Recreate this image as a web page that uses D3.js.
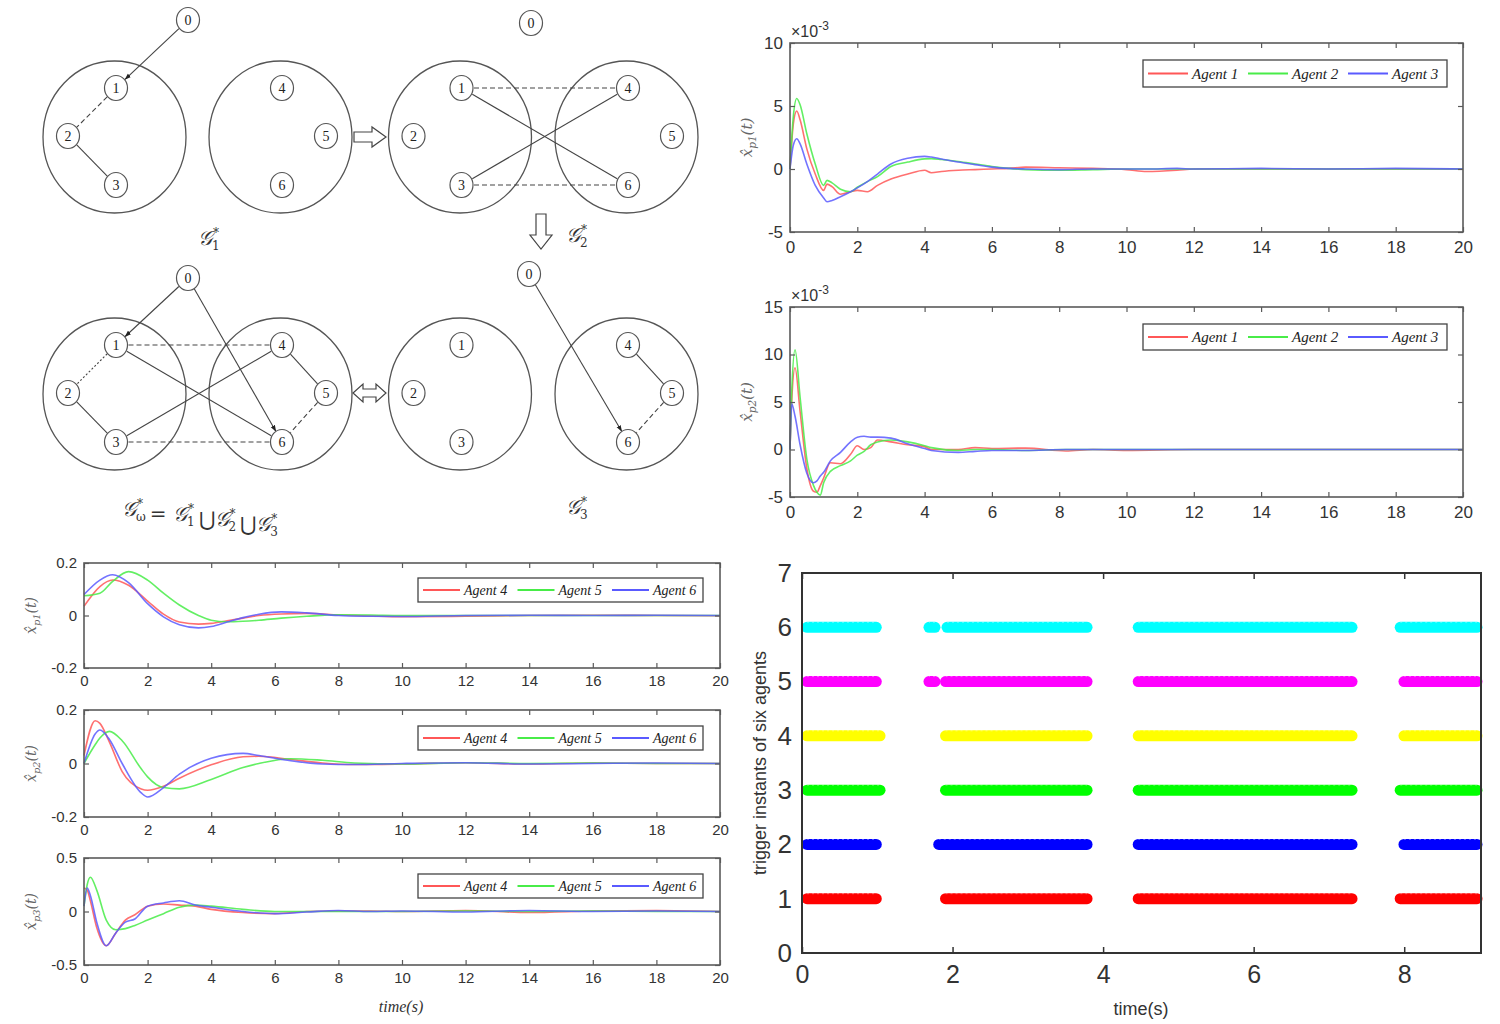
<!DOCTYPE html>
<html><head><meta charset="utf-8">
<script src="https://cdn.jsdelivr.net/npm/d3@7"></script>
<style>body{margin:0;background:#fff}svg{display:block}</style>
</head><body>
<svg id="fig" width="1500" height="1024"></svg>
<script>
// ---- data ----
// top-right panel 1, x_p1 of agents 1-3 (units of 1e-3)
const tP1 = [0, 0.1, 0.2, 0.3, 0.5, 0.75, 1.0, 1.1, 1.25, 1.5, 1.8, 2.0, 2.3, 2.6, 3.0, 3.5, 4.0, 4.2, 4.5, 5.0, 5.5, 6.0, 6.5, 7.0, 8.0, 9.0, 10.0, 10.6, 11.5, 12, 14, 16, 18, 20];
const p1Agent1 = [0, 3.6, 4.6, 3.9, 1.6, -0.4, -1.7, -1.2, -1.4, -2.0, -1.8, -1.7, -1.8, -1.3, -0.8, -0.4, -0.1, -0.3, -0.2, -0.1, -0.05, 0, 0.05, 0.15, 0.1, 0.05, -0.05, -0.2, -0.1, 0, 0, 0, 0, 0];
const p1Agent2 = [0, 4.2, 5.6, 5.1, 2.8, 0.4, -1.3, -0.9, -1.1, -1.6, -1.8, -1.45, -1.0, -0.6, 0.2, 0.55, 0.8, 0.82, 0.75, 0.6, 0.4, 0.2, 0.05, -0.05, -0.1, -0.05, 0, 0, 0, 0, 0, 0, 0, 0];
const p1Agent3 = [0, 1.9, 2.4, 2.0, 0.4, -1.3, -2.3, -2.6, -2.5, -2.2, -1.8, -1.5, -1.0, -0.4, 0.4, 0.85, 1.0, 0.95, 0.8, 0.55, 0.35, 0.15, 0.05, 0, -0.05, 0, 0, 0, 0.05, 0, 0.05, 0, 0.05, 0];

// top-right panel 2, x_p2 of agents 1-3 (units of 1e-3)
const tP2 = [0, 0.05, 0.15, 0.3, 0.5, 0.7, 0.8, 0.9, 1.0, 1.2, 1.5, 1.8, 2.0, 2.2, 2.4, 2.6, 3.0, 3.5, 4.0, 4.2, 5.0, 5.5, 6.0, 7.0, 8.2, 9.0, 10.0, 12.0, 14.0, 16.0, 18.0, 20.0];
const p2Agent1 = [0, 5.0, 8.6, 4.0, -2.0, -4.4, -4.5, -3.8, -3.0, -1.4, -1.5, -0.5, 0.4, 0.0, 0.2, 1.0, 0.8, 0.5, 0.3, 0.0, 0.0, 0.2, 0.1, 0.15, -0.15, 0.0, -0.1, 0, 0, 0, 0, 0];
const p2Agent2 = [0, 6.0, 10.5, 5.5, -1.0, -3.8, -4.5, -4.8, -3.5, -2.3, -1.7, -1.2, -0.6, -0.2, 0.5, 0.8, 1.0, 0.8, 0.4, 0.2, -0.1, 0, 0, -0.1, 0, 0, 0, 0, 0, 0, 0, 0];
const p2Agent3 = [0, 4.8, 3.5, 0.5, -2.5, -3.5, -3.3, -2.8, -2.4, -1.2, -0.3, 0.8, 1.3, 1.4, 1.3, 1.3, 1.2, 0.6, 0.1, -0.1, -0.3, -0.2, -0.1, -0.1, 0, 0, 0, 0, 0, 0, 0, 0];

// bottom-left panel 1, x_p1 of agents 4-6
const tQ1 = [0, 0.5, 0.9, 1.4, 2.0, 2.5, 3.0, 3.6, 4.0, 4.5, 5.0, 5.5, 6.2, 7.0, 8.0, 9.0, 10.0, 12.0, 14.0, 16.0, 18.0, 20.0];
const q1Agent4 = [0.035, 0.11, 0.135, 0.115, 0.055, 0.005, -0.025, -0.033, -0.03, -0.02, -0.01, 0, 0.006, 0.008, 0.002, -0.002, -0.005, -0.003, 0, 0.001, 0, -0.001];
const q1Agent5 = [0.075, 0.085, 0.13, 0.167, 0.135, 0.085, 0.04, 0.0, -0.018, -0.024, -0.022, -0.018, -0.01, -0.003, 0.003, 0.002, 0, 0, 0, 0, 0, 0];
const q1Agent6 = [0.08, 0.135, 0.155, 0.125, 0.045, -0.005, -0.035, -0.047, -0.042, -0.025, -0.008, 0.005, 0.014, 0.01, 0.0, -0.003, -0.004, 0, 0.001, 0, 0.001, 0];

// bottom-left panel 2, x_p2 of agents 4-6
const tQ2 = [0, 0.35, 0.5, 0.8, 1.2, 1.8, 2.0, 2.5, 3.0, 4.0, 5.0, 5.5, 6.5, 7.5, 8.5, 10, 12, 14, 16, 18, 20];
const q2Agent4 = [0.03, 0.16, 0.15, 0.08, -0.03, -0.095, -0.1, -0.085, -0.055, -0.005, 0.025, 0.027, 0.015, 0.002, -0.004, -0.002, 0.003, -0.002, 0.002, 0, 0];
const q2Agent5 = [0.0, 0.07, 0.095, 0.12, 0.085, -0.02, -0.05, -0.09, -0.095, -0.06, -0.015, 0.0, 0.018, 0.012, 0.002, -0.002, 0.003, 0, 0.002, 0, 0];
const q2Agent6 = [0.0, 0.11, 0.125, 0.09, 0.0, -0.11, -0.125, -0.09, -0.04, 0.02, 0.038, 0.03, 0.01, -0.002, -0.004, 0, 0.003, -0.002, 0, 0.002, 0];

// bottom-left panel 3, x_p3 of agents 4-6
const tQ3 = [0, 0.1, 0.2, 0.4, 0.7, 1.0, 1.3, 1.6, 2.0, 2.5, 3.0, 3.5, 4.0, 5.0, 6.0, 7.0, 8.0, 9.0, 10, 12, 14, 16, 18, 20];
const q3Agent4 = [0.22, 0.2, 0.1, -0.15, -0.32, -0.2, -0.08, -0.03, 0.05, 0.07, 0.06, 0.05, 0.02, -0.01, -0.02, 0, 0.005, 0.005, 0, 0.01, -0.01, 0.005, 0.01, 0];
const q3Agent5 = [0.05, 0.25, 0.32, 0.2, -0.08, -0.17, -0.16, -0.13, -0.08, -0.02, 0.04, 0.06, 0.05, 0.02, 0, 0, 0, 0, 0, 0.005, 0, 0.005, 0, 0];
const q3Agent6 = [0.05, 0.22, 0.15, -0.1, -0.32, -0.2, -0.1, -0.07, 0.05, 0.08, 0.1, 0.06, 0.04, 0, -0.02, -0.005, 0.01, 0, 0.005, -0.005, 0.01, 0, 0.005, 0];

// trigger bursts [start, end] (s) per agent 1..6
const trigAgent1 = [[0, 1.0], [1.84, 3.8], [4.4, 7.32], [7.88, 8.98]];
const trigAgent2 = [[0, 1.0], [1.75, 3.8], [4.4, 7.32], [7.93, 8.98]];
const trigAgent3 = [[0, 1.05], [1.84, 3.8], [4.4, 7.32], [7.88, 8.98]];
const trigAgent4 = [[0, 1.05], [1.84, 3.8], [4.4, 7.32], [7.93, 8.98]];
const trigAgent5 = [[0, 1.0], [1.7, 1.7], [1.84, 3.8], [4.4, 7.32], [7.93, 8.98]];
const trigAgent6 = [[0, 1.0], [1.7, 1.7], [1.86, 3.8], [4.4, 7.32], [7.88, 8.98]];
const trigColors = ["#ff0000", "#0000ff", "#00ff00", "#ffff00", "#ff00ff", "#00ffff"];

const xTicks20 = [0, 2, 4, 6, 8, 10, 12, 14, 16, 18, 20];
const legendTop = ["Agent 1", "Agent 2", "Agent 3"];
const legendBottom = ["Agent 4", "Agent 5", "Agent 6"];
const agentColors = ["#ff5757", "#48ec48", "#5a5aff"];

const svg = d3.select("#fig");
const FRAME = "#5a5a5a";
const SANS = "'Liberation Sans', Arial, sans-serif";
const SERIF = "'Liberation Serif', 'Times New Roman', serif";
const hyph = f => d => f(d).replace("\u2212", "-");

// ---- line chart panels ----
function lineChart(o) {
  const x = d3.scaleLinear().domain([0, 20]).range([o.left, o.right]);
  const y = d3.scaleLinear().domain(o.yDom).range([o.bottom, o.top]);
  const g = svg.append("g");

  const line = d3.line().x(d => x(d[0])).y(d => y(d[1])).curve(d3.curveMonotoneX);
  o.series.forEach((s, i) => {
    g.append("path")
      .datum(d3.zip(o.times, s))
      .attr("d", line)
      .attr("fill", "none")
      .attr("stroke", agentColors[i])
      .attr("stroke-width", 1.6)
      .attr("stroke-opacity", 0.85);
  });

  const styleAxis = (sel, withText) => {
    sel.select(".domain").remove();
    sel.selectAll("line").attr("stroke", FRAME).attr("stroke-width", 1.2);
    sel.selectAll("text").attr("fill", "#333").style("font-family", SANS).style("font-size", o.fs + "px");
    if (!withText) sel.selectAll("text").remove();
  };
  g.append("g").attr("transform", `translate(0,${o.bottom})`)
    .call(d3.axisBottom(x).tickValues(xTicks20).tickSize(-5).tickPadding(o.xPad).tickFormat(d3.format("d")))
    .call(s => styleAxis(s, true));
  g.append("g").attr("transform", `translate(0,${o.top})`)
    .call(d3.axisTop(x).tickValues(xTicks20).tickSize(-5))
    .call(s => styleAxis(s, false));
  g.append("g").attr("transform", `translate(${o.left},0)`)
    .call(d3.axisLeft(y).tickValues(o.yTicks).tickSize(-5).tickPadding(7).tickFormat(hyph(o.yFmt)))
    .call(s => styleAxis(s, true));
  g.append("g").attr("transform", `translate(${o.right},0)`)
    .call(d3.axisRight(y).tickValues(o.yTicks).tickSize(-5))
    .call(s => styleAxis(s, false));

  g.append("rect")
    .attr("x", o.left).attr("y", o.top)
    .attr("width", o.right - o.left).attr("height", o.bottom - o.top)
    .attr("fill", "none").attr("stroke", FRAME).attr("stroke-width", 1.6);

  // legend
  const lg = g.append("g");
  lg.append("rect")
    .attr("x", o.lg.x).attr("y", o.lg.y).attr("width", o.lg.w).attr("height", o.lg.h)
    .attr("fill", "#fff").attr("stroke", "#444").attr("stroke-width", 1.3);
  o.lg.names.forEach((n, i) => {
    const x0 = o.lg.x + 5 + i * o.lg.step;
    const cy = o.lg.y + o.lg.h / 2;
    lg.append("line").attr("x1", x0).attr("x2", x0 + o.lg.len).attr("y1", cy).attr("y2", cy)
      .attr("stroke", agentColors[i]).attr("stroke-width", 1.8);
    lg.append("text").attr("x", x0 + o.lg.len + 4).attr("y", cy + 5)
      .style("font-family", SERIF).style("font-style", "italic").style("font-size", o.lg.fs + "px")
      .attr("fill", "#222").text(n);
  });

  // y label  x̂_{pk}(t)
  const yl = g.append("text")
    .attr("transform", `translate(${o.ylx},${(o.top + o.bottom) / 2}) rotate(-90)`)
    .attr("text-anchor", "middle")
    .style("font-family", "'DejaVu Serif', serif").style("font-style", "italic")
    .style("font-size", o.ylfs + "px").attr("fill", "#666");
  yl.append("tspan").text("x\u0302");
  yl.append("tspan").attr("dy", 4).style("font-size", (o.ylfs * 0.7) + "px").text(o.sub);
  yl.append("tspan").attr("dy", -4).text("(t)");

  if (o.exp) {
    const ex = g.append("text").attr("x", o.left + 1).attr("y", o.top - 6)
      .style("font-family", SANS).style("font-size", "16px").attr("fill", "#333");
    ex.append("tspan").text("\u00d710");
    ex.append("tspan").attr("dy", -7).style("font-size", "12px").text("-3");
  }
}

const fmtTenth = d => d === 0 ? "0" : d3.format(".1f")(d);

lineChart({left: 790, right: 1463, top: 43, bottom: 232, yDom: [-5, 10], yTicks: [-5, 0, 5, 10],
  yFmt: d3.format("d"), times: tP1, series: [p1Agent1, p1Agent2, p1Agent3], fs: 17, xPad: 9,
  lg: {x: 1143, y: 60, w: 304, h: 27, step: 100, len: 40, fs: 15, names: legendTop},
  ylx: 752, ylfs: 15, sub: "p1", exp: true});

lineChart({left: 790, right: 1463, top: 307, bottom: 497, yDom: [-5, 15], yTicks: [-5, 0, 5, 10, 15],
  yFmt: d3.format("d"), times: tP2, series: [p2Agent1, p2Agent2, p2Agent3], fs: 17, xPad: 9,
  lg: {x: 1143, y: 324, w: 304, h: 26, step: 100, len: 40, fs: 15, names: legendTop},
  ylx: 752, ylfs: 15, sub: "p2", exp: true});

lineChart({left: 84, right: 720, top: 563, bottom: 668, yDom: [-0.2, 0.2], yTicks: [-0.2, 0, 0.2],
  yFmt: fmtTenth, times: tQ1, series: [q1Agent4, q1Agent5, q1Agent6], fs: 15, xPad: 7,
  lg: {x: 418, y: 578, w: 285, h: 24, step: 94.5, len: 37, fs: 14, names: legendBottom},
  ylx: 36, ylfs: 14, sub: "p1"});

lineChart({left: 84, right: 720, top: 710, bottom: 817, yDom: [-0.2, 0.2], yTicks: [-0.2, 0, 0.2],
  yFmt: fmtTenth, times: tQ2, series: [q2Agent4, q2Agent5, q2Agent6], fs: 15, xPad: 7,
  lg: {x: 418, y: 726, w: 285, h: 24, step: 94.5, len: 37, fs: 14, names: legendBottom},
  ylx: 36, ylfs: 14, sub: "p2"});

lineChart({left: 84, right: 720, top: 858, bottom: 965, yDom: [-0.5, 0.5], yTicks: [-0.5, 0, 0.5],
  yFmt: fmtTenth, times: tQ3, series: [q3Agent4, q3Agent5, q3Agent6], fs: 15, xPad: 7,
  lg: {x: 418, y: 874, w: 285, h: 24, step: 94.5, len: 37, fs: 14, names: legendBottom},
  ylx: 36, ylfs: 14, sub: "p3"});

svg.append("text").attr("x", 401).attr("y", 1012).attr("text-anchor", "middle")
  .style("font-family", SERIF).style("font-style", "italic").style("font-size", "16px")
  .attr("fill", "#333").text("time(s)");

// ---- trigger instants panel ----
(function () {
  const x = d3.scaleLinear().domain([0, 9.02]).range([802, 1481]);
  const y = d3.scaleLinear().domain([0, 7]).range([953, 573]);
  const g = svg.append("g");
  const rows = [trigAgent1, trigAgent2, trigAgent3, trigAgent4, trigAgent5, trigAgent6];
  rows.forEach((bursts, i) => {
    g.selectAll(null).data(bursts).join("line")
      .attr("x1", d => x(d[0]) + 5).attr("x2", d => x(d[1]) - 1)
      .attr("y1", y(i + 1)).attr("y2", y(i + 1))
      .attr("stroke", trigColors[i]).attr("stroke-width", 11)
      .attr("stroke-linecap", "round");
    // star-marker texture
    g.selectAll(null).data(bursts).join("line")
      .attr("x1", d => x(d[0]) + 5).attr("x2", d => x(d[1]) - 1)
      .attr("y1", y(i + 1) - 5).attr("y2", y(i + 1) - 5)
      .attr("stroke", "#fff").attr("stroke-opacity", 0.35).attr("stroke-width", 1)
      .attr("stroke-dasharray", "2,3");
  });

  const axStyle = (sel, fs) => {
    sel.select(".domain").remove();
    sel.selectAll("line").attr("stroke", "#333").attr("stroke-width", 1.5);
    sel.selectAll("text").attr("fill", "#333").style("font-family", SANS).style("font-size", fs + "px");
  };
  g.append("g").attr("transform", "translate(0,953)")
    .call(d3.axisBottom(x).tickValues([0, 2, 4, 6, 8]).tickSize(-6).tickPadding(12).tickFormat(d3.format("d")))
    .call(s => axStyle(s, 25));
  g.append("g").attr("transform", "translate(0,573)")
    .call(d3.axisTop(x).tickValues([0, 2, 4, 6, 8]).tickSize(-6).tickFormat(""))
    .call(s => axStyle(s, 25));
  g.append("g").attr("transform", "translate(802,0)")
    .call(d3.axisLeft(y).tickValues(d3.range(0, 8)).tickSize(0).tickPadding(10).tickFormat(d3.format("d")))
    .call(s => axStyle(s, 26));
  g.append("rect").attr("x", 802).attr("y", 573).attr("width", 679).attr("height", 380)
    .attr("fill", "none").attr("stroke", "#333").attr("stroke-width", 2);

  g.append("text").attr("transform", "translate(766,763) rotate(-90)").attr("text-anchor", "middle")
    .style("font-family", SANS).style("font-size", "18px").attr("fill", "#333")
    .text("trigger instants of six agents");
  g.append("text").attr("x", 1141).attr("y", 1015).attr("text-anchor", "middle")
    .style("font-family", SANS).style("font-size", "18px").attr("fill", "#333").text("time(s)");
})();

// ---- switching topology diagrams ----
const ringOffsets = [[1.5, -49], [-46.5, -1], [1.5, 48], [1.5, -49], [45.5, -1], [1.5, 48]];
const panelA = {lx: 114.5, rx: 280.5, cy: 137, n0: [188, 20],
  edges: [[0, 1, "arrow"], [1, 2, "dash"], [2, 3, "solid"]]};
const panelB = {lx: 460, rx: 626.5, cy: 137, n0: [531, 23],
  edges: [[1, 4, "dash"], [3, 6, "dash"], [1, 6, "solid"], [3, 4, "solid"]]};
const panelC = {lx: 114.5, rx: 280.5, cy: 394, n0: [188, 278],
  edges: [[0, 1, "arrow"], [0, 6, "arrow"], [1, 2, "dot"], [2, 3, "solid"], [1, 4, "dash"], [3, 6, "dash"],
          [1, 6, "solid"], [3, 4, "solid"], [4, 5, "solid"], [5, 6, "dash"]]};
const panelD = {lx: 460, rx: 626.5, cy: 394, n0: [529, 274],
  edges: [[0, 6, "arrow"], [4, 5, "solid"], [5, 6, "dash"]]};

svg.append("defs").append("marker")
  .attr("id", "ah").attr("viewBox", "0 0 10 10").attr("refX", 9).attr("refY", 5)
  .attr("markerWidth", 6).attr("markerHeight", 6).attr("orient", "auto")
  .append("path").attr("d", "M0,1.5L10,5L0,8.5Z").attr("fill", "#222");

function drawPanel(p) {
  const g = svg.append("g");
  const pos = [p.n0];
  ringOffsets.forEach((o, i) => {
    const cx = i < 3 ? p.lx : p.rx;
    pos.push([cx + o[0], p.cy + o[1]]);
  });
  [p.lx, p.rx].forEach(cx => {
    g.append("ellipse").attr("cx", cx).attr("cy", p.cy).attr("rx", 71.5).attr("ry", 76)
      .attr("fill", "none").attr("stroke", "#555").attr("stroke-width", 1.3);
  });
  p.edges.forEach(([a, b, kind]) => {
    const [x1, y1] = pos[a], [x2, y2] = pos[b];
    const dx = x2 - x1, dy = y2 - y1, L = Math.hypot(dx, dy);
    const r = 12.5;
    const ln = g.append("line")
      .attr("x1", x1 + dx / L * r).attr("y1", y1 + dy / L * r)
      .attr("x2", x2 - dx / L * r).attr("y2", y2 - dy / L * r)
      .attr("stroke", "#444").attr("stroke-width", 1.1);
    if (kind === "dash") ln.attr("stroke-dasharray", "5,3");
    if (kind === "dot") ln.attr("stroke-dasharray", "2,2");
    if (kind === "arrow") ln.attr("marker-end", "url(#ah)");
  });
  pos.forEach((q, i) => {
    g.append("ellipse").attr("cx", q[0]).attr("cy", q[1]).attr("rx", 11.5).attr("ry", 12.5)
      .attr("fill", "#fff").attr("stroke", "#555").attr("stroke-width", 1.2);
    g.append("text").attr("x", q[0]).attr("y", q[1] + 5).attr("text-anchor", "middle")
      .style("font-family", SERIF).style("font-size", "14px").attr("fill", "#222").text(i);
  });
}
[panelA, panelB, panelC, panelD].forEach(drawPanel);

// hollow block arrows between panels
const arrowStyle = s => s.attr("fill", "#fff").attr("stroke", "#444").attr("stroke-width", 1.2);
svg.append("path").attr("d", "M354,132H372V127L386,137L372,147V142H354Z").call(arrowStyle);
svg.append("path").attr("d", "M536,214H546V235H552L541,249L530,235H536Z").call(arrowStyle);
svg.append("path").attr("d", "M353,393L363,384V389H376V384L386,393L376,402V397H363V402Z").call(arrowStyle);

// graph labels
function gLabel(x, y, parts) {
  const t = svg.append("text").attr("x", x).attr("y", y)
    .style("font-family", "'DejaVu Serif', serif").style("font-size", "20px").attr("fill", "#333");
  parts.forEach(p => {
    if (p.type === "G") {
      t.append("tspan").style("font-style", "italic").text("\ud835\udca2");
      t.append("tspan").attr("dx", 1).attr("dy", -8).style("font-size", "12px").text("*");
      t.append("tspan").attr("dx", -7).attr("dy", 13).style("font-size", "12px").text(p.sub);
      t.append("tspan").attr("dy", -5).text("");
    } else {
      t.append("tspan").attr("dx", 4).text(p.txt);
    }
  });
}
gLabel(198, 245, [{type: "G", sub: "1"}]);
gLabel(566, 242, [{type: "G", sub: "2"}]);
gLabel(566, 514, [{type: "G", sub: "3"}]);
gLabel(122, 516, [{type: "G", sub: "\u03c9"}, {txt: "= "}, {type: "G", sub: "1"}, {txt: "\u22c3"},
  {type: "G", sub: "2"}, {txt: "\u22c3"}, {type: "G", sub: "3"}]);
</script>
</body></html>
